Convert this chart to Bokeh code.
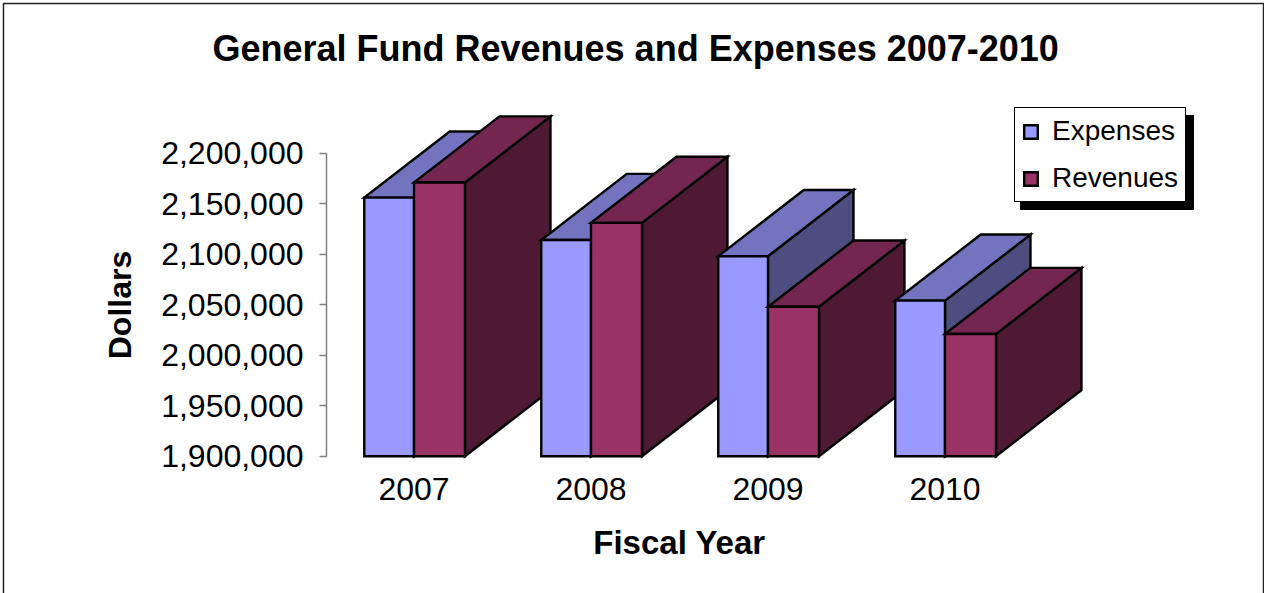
from bokeh.embed import file_html
from bokeh.models import (BoxAnnotation, FixedTicker, Label, Legend, LegendItem,
                          NumeralTickFormatter, Range1d)
from bokeh.plotting import figure
from bokeh.resources import INLINE

# General fund figures by fiscal year, in dollars
years = [2007, 2008, 2009, 2010]
expenses = [2156000, 2114000, 2098000, 2054000]
revenues = [2171000, 2131000, 2048000, 2021000]
y_ticks = [1900000, 1950000, 2000000, 2050000, 2100000, 2150000, 2200000]

FONT = "Liberation Sans"
BASE = 1900000
WIDTH, HEIGHT = 1264, 593

# Extruded column geometry, in axis units
EXP_WIDTH = 0.281
REV_WIDTH = 0.288
DEPTH_X = 0.483
DEPTH_Y = 65500

EXP_COLORS = ("#9999FF", "#7373BF", "#4D4D80")
REV_COLORS = ("#993366", "#732650", "#4D1933")

# Scale of the plot area: the frame fills the page
PX_PER_YEAR = 177
PX_PER_DOLLAR = 1.01 / 1000
ORIGIN_X = 413.5    # page x of the first fiscal year
ORIGIN_Y = 455.7    # page y of the axis baseline


def data_x(px):
    return years[0] + (px - ORIGIN_X) / PX_PER_YEAR


def data_y(py):
    return BASE + (ORIGIN_Y - py) / PX_PER_DOLLAR


def column(x0, x1, top):
    """Return front, top and side faces of one extruded column."""
    front = ([x0, x1, x1, x0], [BASE, BASE, top, top])
    lid = ([x0, x1, x1 + DEPTH_X, x0 + DEPTH_X],
           [top, top, top + DEPTH_Y, top + DEPTH_Y])
    side = ([x1, x1 + DEPTH_X, x1 + DEPTH_X, x1],
            [BASE, BASE + DEPTH_Y, top + DEPTH_Y, top])
    return front, lid, side


xs, ys, colors = [], [], []
exp_index = rev_index = None
for year, exp, rev in zip(years, expenses, revenues):
    # Paint order: expenses first, so the revenue column sits in front of them
    for x0, x1, top, palette, series in (
        (year - EXP_WIDTH, year, exp, EXP_COLORS, "exp"),
        (year, year + REV_WIDTH, rev, REV_COLORS, "rev"),
    ):
        front, lid, side = column(x0, x1, top)
        for (fx, fy), color in ((side, palette[2]), (lid, palette[1]), (front, palette[0])):
            xs.append(fx)
            ys.append(fy)
            colors.append(color)
        if series == "exp" and exp_index is None:
            exp_index = len(xs) - 1
        if series == "rev" and rev_index is None:
            rev_index = len(xs) - 1

p = figure(
    frame_width=WIDTH, frame_height=HEIGHT,
    min_border_left=0, min_border_right=0, min_border_top=0, min_border_bottom=0,
    x_range=Range1d(data_x(0), data_x(WIDTH)),
    y_range=Range1d(data_y(HEIGHT), data_y(0)),
    output_backend="svg", toolbar_location=None,
    background_fill_color="white", border_fill_color="white",
    outline_line_color=None,
)
p.grid.visible = False

# Outer chart frame, its bottom edge runs past the page
p.add_layout(BoxAnnotation(left=data_x(3), right=data_x(1263),
                           top=data_y(3), bottom=data_y(620),
                           fill_color=None, line_color="#222222", line_alpha=1,
                           line_width=1.5, level="underlay"))

# Drop shadow of the legend box
p.add_layout(BoxAnnotation(left=data_x(1020), right=data_x(1193),
                           top=data_y(115), bottom=data_y(209),
                           fill_color="black", line_color="black", line_alpha=1,
                           fill_alpha=1, level="underlay"))

bars = p.patches(xs, ys, fill_color=colors, line_color="black", line_width=2.4, line_join="miter")

# Title
p.add_layout(Label(x=data_x(212), y=data_y(48),
                   text="General Fund Revenues and Expenses 2007-2010",
                   text_font=FONT, text_font_size="36px", text_font_style="bold",
                   text_color="black", text_baseline="middle", text_align="left"))

# Value axis, pinned inside the full-page frame
ya = p.yaxis[0]
ya.fixed_location = data_x(326)
ya.ticker = FixedTicker(ticks=y_ticks)
ya.formatter = NumeralTickFormatter(format="0,0")
ya.bounds = (1900000, 2200000)
ya.axis_line_color = "#808080"
ya.axis_line_width = 1.5
ya.major_tick_line_color = "#808080"
ya.major_tick_line_width = 1.5
ya.major_tick_in = 0
ya.major_tick_out = 7
ya.minor_tick_line_color = None
ya.major_label_standoff = 16
ya.major_label_text_font = FONT
ya.major_label_text_font_size = "32px"
ya.major_label_text_color = "black"
ya.axis_label = "Dollars"
ya.axis_label_text_font = FONT
ya.axis_label_text_font_size = "32px"
ya.axis_label_text_font_style = "bold"
ya.axis_label_text_color = "black"
ya.axis_label_standoff = 20

# Category axis, pinned to the baseline
xa = p.xaxis[0]
xa.fixed_location = BASE
xa.ticker = FixedTicker(ticks=years)
xa.formatter = NumeralTickFormatter(format="0")
xa.bounds = (2006.7, 2010.3)
xa.axis_line_color = None
xa.major_tick_line_color = None
xa.minor_tick_line_color = None
xa.major_label_standoff = 16
xa.major_label_text_font = FONT
xa.major_label_text_font_size = "32px"
xa.major_label_text_color = "black"
xa.axis_label = "Fiscal Year"
xa.axis_label_text_font = FONT
xa.axis_label_text_font_size = "33px"
xa.axis_label_text_font_style = "bold"
xa.axis_label_text_color = "black"
xa.axis_label_standoff = 20

legend = Legend(
    items=[LegendItem(label="Expenses", renderers=[bars], index=exp_index),
           LegendItem(label="Revenues", renderers=[bars], index=rev_index)],
    location=(1014, HEIGHT - 202), orientation="vertical",
    margin=0, padding=7, spacing=15,
    glyph_width=17, glyph_height=17, label_height=30, label_standoff=13,
    label_text_font=FONT, label_text_font_size="28px", label_text_color="black",
    border_line_color="black", border_line_alpha=1, border_line_width=1.5,
    background_fill_color="white", background_fill_alpha=1,
)
p.add_layout(legend)

open("out.html", "w").write(file_html(p, INLINE))
